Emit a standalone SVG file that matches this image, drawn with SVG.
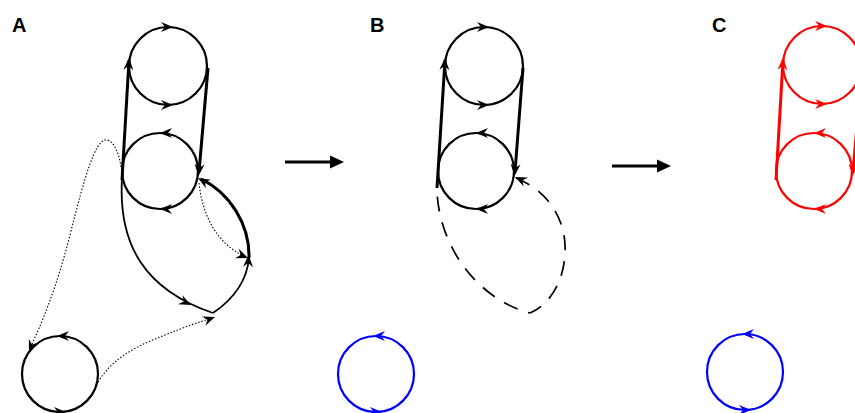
<svg xmlns="http://www.w3.org/2000/svg" xmlns:xlink="http://www.w3.org/1999/xlink" width="855" height="413" viewBox="0 0 855 413">
<style>
.c{fill:none;stroke-width:2.2}
.k{stroke:#000}
.r{stroke:#ff0000}
.b{stroke:#0000ff}
.thick{fill:none;stroke-width:3}
.thin{fill:none;stroke:#000;stroke-width:1.8}
.dot{fill:none;stroke:#000;stroke-width:1.1;stroke-dasharray:1.5 1.8}
.dash{fill:none;stroke:#000;stroke-width:1.7;stroke-dasharray:15 11}
.lbl{font-family:"Liberation Sans",Arial,sans-serif;font-weight:bold;font-size:20px;fill:#000}
</style>
<defs>
<path id="ah" d="M0,0 L-12,-5 L-8,0 L-12,5 Z"/>
<path id="bigah" d="M0,0 L-14,-6.5 L-14,6.5 Z"/>
</defs>

<text class="lbl" x="12" y="32">A</text>
<text class="lbl" x="370" y="32">B</text>
<text class="lbl" x="712" y="32">C</text>

<!-- Panel A -->
<g id="A-top">
<circle class="c k" cx="168" cy="66" r="39"/>
<use xlink:href="#ah" href="#ah" transform="translate(173,27)"/>
<use xlink:href="#ah" href="#ah" transform="translate(173,105)"/>
</g>
<g id="A-mid">
<circle class="c k" cx="160" cy="171" r="38"/>
<use xlink:href="#ah" href="#ah" transform="translate(160,133) rotate(180)"/>
<use xlink:href="#ah" href="#ah" transform="translate(160,209) rotate(180)"/>
</g>
<g id="A-low">
<circle class="c k" cx="60" cy="374" r="38" stroke-width="2.5"/>
<use xlink:href="#ah" href="#ah" transform="translate(57,336) rotate(180)"/>
<use xlink:href="#ah" href="#ah" transform="translate(66,412)"/>
</g>
<g id="A-connectors">
<path class="thick k" d="M122,180 L129,60"/>
<use xlink:href="#ah" href="#ah" transform="translate(129,58) rotate(-87)"/>
<path class="thick k" d="M208,68 L199,172"/>
<use xlink:href="#ah" href="#ah" transform="translate(198.5,176) rotate(95)"/>
<path class="thin" d="M213,313 C235,298 247,280 249,258"/>
<path class="thick k" d="M249,258 C250,225 230,193 201,179"/>
<use xlink:href="#ah" href="#ah" transform="translate(248.5,255) rotate(-88)"/>
<use xlink:href="#ah" href="#ah" transform="translate(198,178) rotate(-150)"/>
<path class="thin" d="M122,178 C118,245 145,290 213,313"/>
<use xlink:href="#ah" href="#ah" transform="translate(191,305) rotate(26)"/>
<path class="dot" d="M121,167 C118,147 111,139 105,140 C95,142 85,175 70,235 C56,290 41,325 31,346"/>
<use xlink:href="#ah" href="#ah" transform="translate(29,352) rotate(112)"/>
<path class="dot" d="M199,183 C203,220 220,245 244,256"/>
<use xlink:href="#ah" href="#ah" transform="translate(248,258) rotate(22)"/>
<path class="dot" d="M98,382 C115,355 140,345 165,335 C185,327 198,322 210,319"/>
<use xlink:href="#ah" href="#ah" transform="translate(215,317) rotate(-20)"/>
</g>

<g id="arrow-AB">
<path d="M285,162 L331,162" stroke="#000" stroke-width="3.2" fill="none"/>
<use xlink:href="#bigah" href="#bigah" transform="translate(344,162)"/>
</g>

<!-- Panel B -->
<g id="B-top">
<circle class="c k" cx="484" cy="66" r="39"/>
<use xlink:href="#ah" href="#ah" transform="translate(489,27)"/>
<use xlink:href="#ah" href="#ah" transform="translate(489,105)"/>
</g>
<g id="B-mid">
<circle class="c k" cx="476" cy="171" r="38"/>
<use xlink:href="#ah" href="#ah" transform="translate(476,133) rotate(180)"/>
<use xlink:href="#ah" href="#ah" transform="translate(476,209) rotate(180)"/>
</g>
<g id="B-blue">
<circle class="c b" cx="376" cy="374" r="38" stroke-width="2.5"/>
<use xlink:href="#ah" href="#ah" fill="#0000ff" transform="translate(373,336) rotate(180)"/>
<use xlink:href="#ah" href="#ah" fill="#0000ff" transform="translate(382,412)"/>
</g>
<g id="B-connectors">
<path class="thick k" d="M437,188 L445,60"/>
<use xlink:href="#ah" href="#ah" transform="translate(445,58) rotate(-87)"/>
<path class="thick k" d="M523,68 L515,172"/>
<use xlink:href="#ah" href="#ah" transform="translate(514.5,176) rotate(95)"/>
<path class="dash" d="M516,178 C540,188 556,205 563,230 C570,260 560,300 530,313 C480,300 440,250 437,192"/>
<use xlink:href="#ah" href="#ah" transform="translate(515,177) rotate(-155)"/>
</g>

<g id="arrow-BC">
<path d="M612,166 L658,166" stroke="#000" stroke-width="3.2" fill="none"/>
<use xlink:href="#bigah" href="#bigah" transform="translate(671,166)"/>
</g>

<!-- Panel C -->
<g id="C-top">
<circle class="c r" cx="822" cy="65" r="39"/>
<use xlink:href="#ah" href="#ah" fill="#ff0000" transform="translate(827,26)"/>
<use xlink:href="#ah" href="#ah" fill="#ff0000" transform="translate(827,104)"/>
</g>
<g id="C-mid">
<circle class="c r" cx="814" cy="171" r="38"/>
<use xlink:href="#ah" href="#ah" fill="#ff0000" transform="translate(814,133) rotate(180)"/>
<use xlink:href="#ah" href="#ah" fill="#ff0000" transform="translate(814,209) rotate(180)"/>
</g>
<g id="C-blue">
<circle class="c b" cx="745" cy="372" r="38" stroke-width="2.5"/>
<use xlink:href="#ah" href="#ah" fill="#0000ff" transform="translate(742,334) rotate(180)"/>
<use xlink:href="#ah" href="#ah" fill="#0000ff" transform="translate(751,410)"/>
</g>
<g id="C-connectors">
<path class="thick r" d="M776,180 L783,60"/>
<use xlink:href="#ah" href="#ah" fill="#ff0000" transform="translate(783,58) rotate(-87)"/>
<path class="thick r" d="M862,68 L853,172"/>
<use xlink:href="#ah" href="#ah" fill="#ff0000" transform="translate(852.5,176) rotate(95)"/>
</g>
</svg>
